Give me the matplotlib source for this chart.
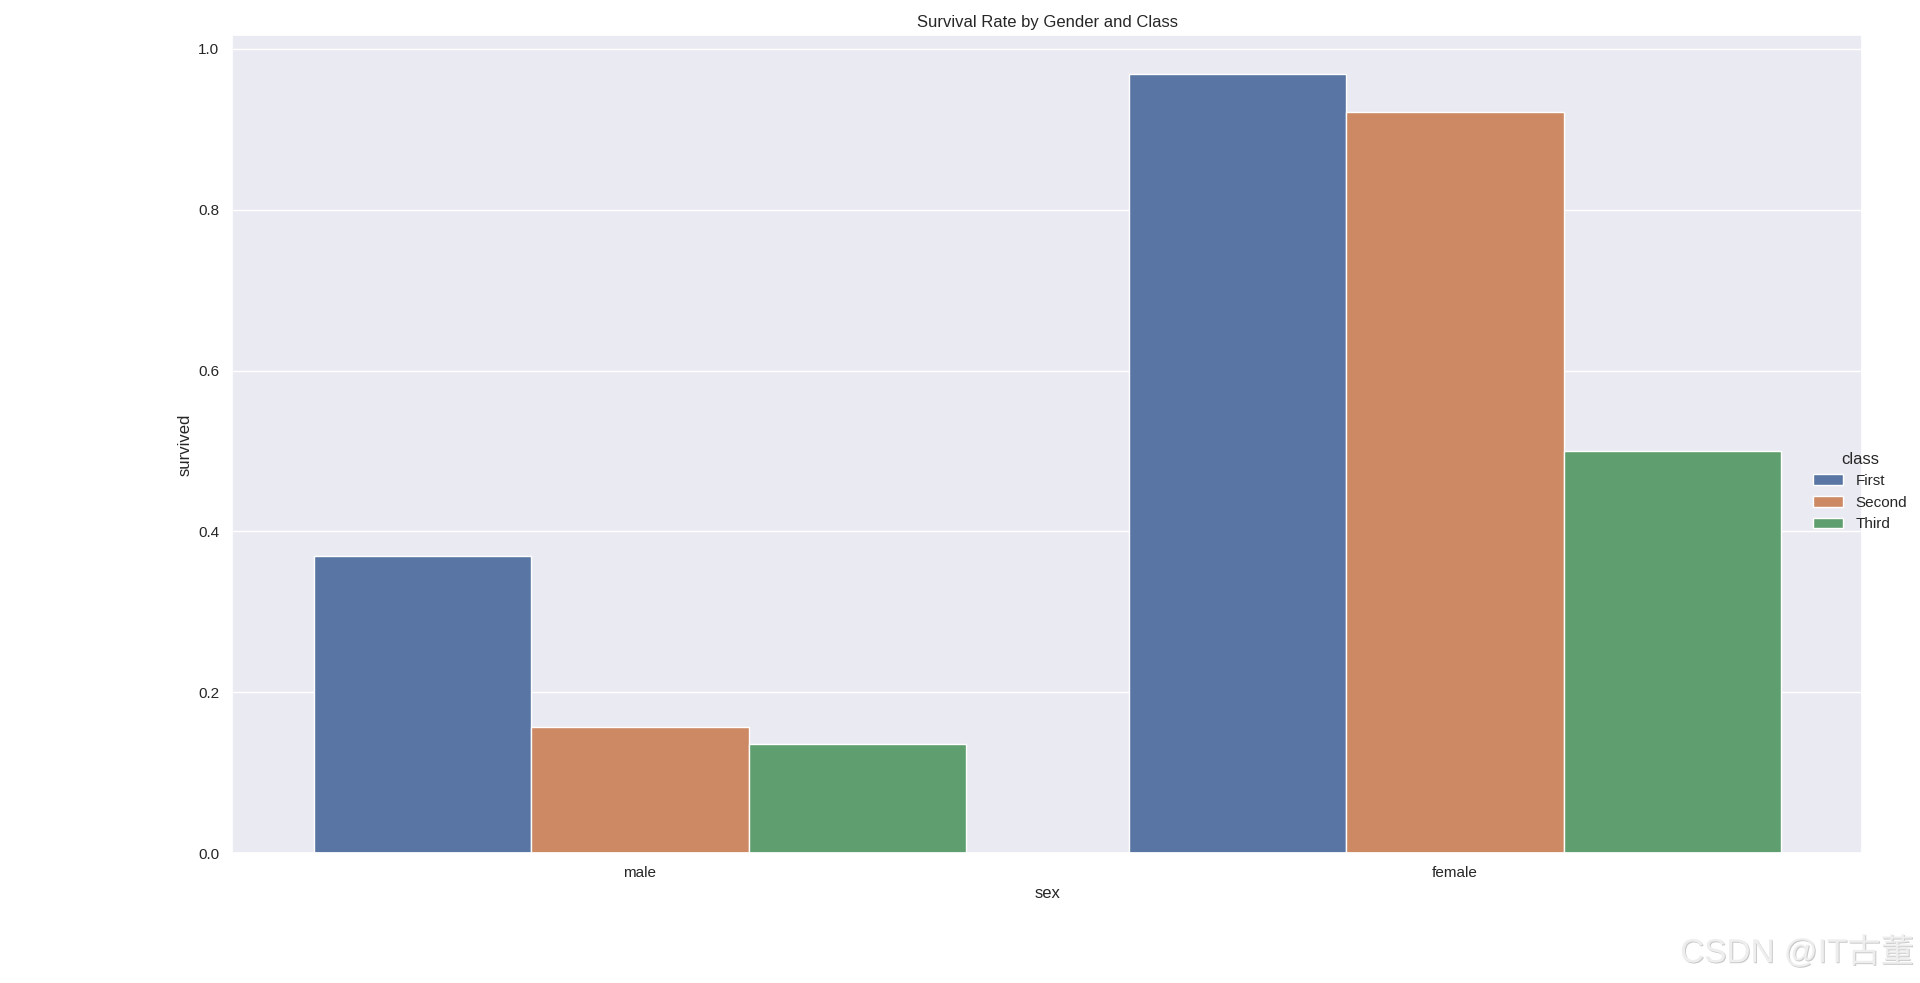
import matplotlib
matplotlib.use("Agg")
import matplotlib.pyplot as plt
import matplotlib.patheffects as pe
import seaborn as sns
import numpy as np

sns.set_theme(style="darkgrid")
plt.rcParams['font.family'] = ['Liberation Sans', 'Noto Sans CJK SC']

# 数据：泰坦尼克号按性别和舱位的生存率
sexes = ["male", "female"]
classes = ["First", "Second", "Third"]
survived_first = [0.3689, 0.9681]
survived_second = [0.1574, 0.9211]
survived_third = [0.1354, 0.5000]

# seaborn 柱状图默认饱和度 0.75
palette = [sns.desaturate(c, 0.75) for c in sns.color_palette()[:3]]

fig = plt.figure(figsize=(19.2, 9.83), dpi=100)
ax = fig.add_axes([0.121, 0.132, 0.849, 0.832])

width = 0.8 / 3
x = np.arange(len(sexes))
series = [survived_first, survived_second, survived_third]
handles = []
for i, (vals, name) in enumerate(zip(series, classes)):
    offset = -0.4 + width * (i + 0.5)
    b = ax.bar(x + offset, vals, width, color=palette[i], edgecolor="white",
               linewidth=1, label=name)
    handles.append(b)

ax.set_xticks(x)
ax.set_xticklabels(sexes)
ax.set_xlim(-0.5, 1.5)
ax.set_ylim(0, 1.0166)
ax.set_xlabel("sex")
ax.set_ylabel("survived")
ax.set_title("Survival Rate by Gender and Class")
ax.grid(axis="x", visible=False)

fig.legend(handles=handles, labels=classes, title="class", frameon=False,
           loc="center left", bbox_to_anchor=(0.937, 0.50))

# 水印
fig.text(0.997, 0.014, "CSDN @IT古董", ha="right", va="bottom", fontsize=24,
         color="#eeeeee", family=['Liberation Sans', 'Noto Sans CJK SC'],
         path_effects=[pe.SimplePatchShadow(offset=(0.7, -0.7), shadow_rgbFace="#888888", alpha=0.45),
                       pe.Normal()])

fig.savefig("out.png", dpi=100)
